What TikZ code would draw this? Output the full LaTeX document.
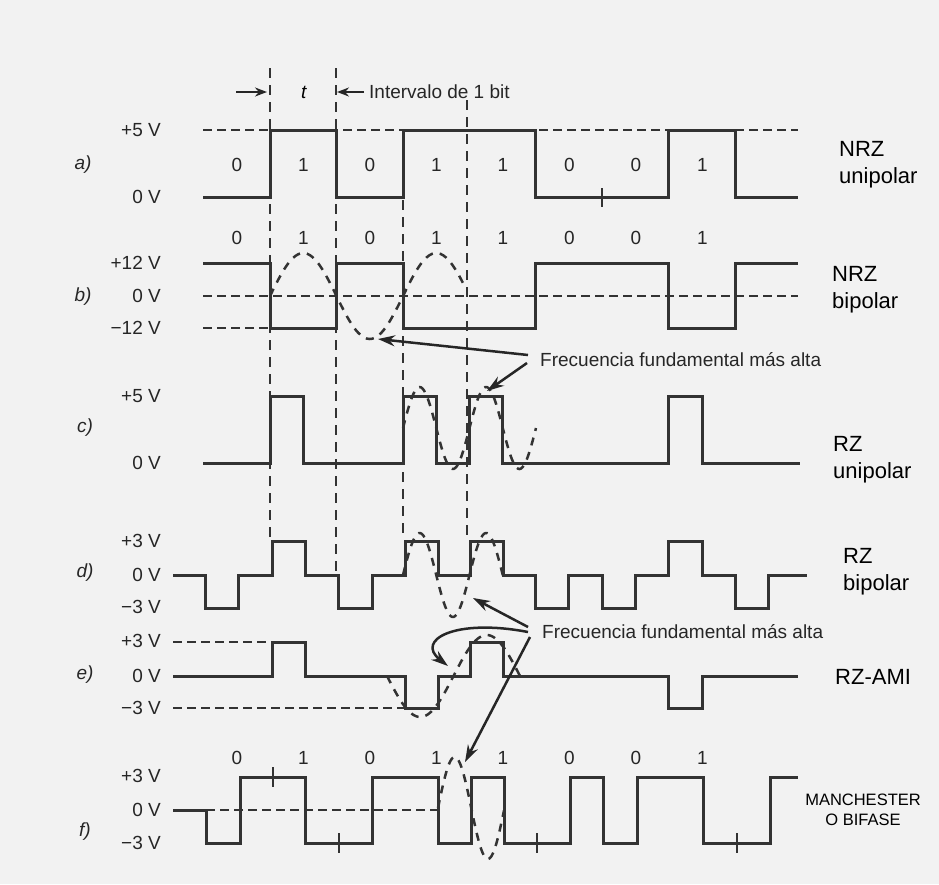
\documentclass[tikz,border=0pt]{standalone}
\usepackage{fontspec}
\setmainfont{Liberation Sans}
\usetikzlibrary{arrows.meta}

\tikzset{
	signal/.style={line width=3pt,line join=miter,black!80},
	rail/.style={line width=2.5pt,dash pattern=on 9pt off 5pt,black!80},
	bitgrid/.style={line width=2.5pt,dash pattern=on 10pt off 7pt,black!80},
	sinewave/.style={line width=2.5pt,dash pattern=on 8pt off 7pt,black!80},
	bitmark/.style={line width=2.2pt,black!80},
	pointer/.style={line width=2.5pt,black!85,-{Stealth[length=17pt,width=11pt]}},
	volt/.style={anchor=east,inner sep=0pt,text=black!85},
	bit/.style={inner sep=0pt,text=black!85},
	partlabel/.style={inner sep=0pt,text=black!85,font=\fontsize{19}{23}\selectfont\itshape},
	codename/.style={anchor=west,align=left,inner sep=0pt,font=\fontsize{22}{27}\selectfont},
}

\begin{document}
\begin{tikzpicture}[x=1pt,y=-1pt,font=\fontsize{19}{23}\selectfont]
	\useasboundingbox (0,0) rectangle (939,884);
	\fill[black!5] (0,0) rectangle (939,884); % paper

	% bit interval guides
	\draw[bitgrid] (270,68) -- (270,540);
	\draw[bitgrid] (336,68) -- (336,575);
	\draw[bitgrid] (403,200) -- (403,540);
	\draw[bitgrid] (467,100) -- (467,540);

	\node[inner sep=0pt] (tlen) at (304,92) {\textit{t}}; % bit time
	\node[inner sep=0pt,anchor=west,text=black!85] (interval) at (369,92) {Intervalo de 1 bit};
	\coordinate (tstart) at (267,92);
	\coordinate (tend) at (337,92);
	\draw[pointer,-{Stealth[length=12pt,width=9pt]}] ([xshift=-31pt]tstart) -- (tstart);
	\draw[pointer,-{Stealth[length=12pt,width=9pt]}] ([xshift=-5pt]interval.west) -- (tend);

	% a) NRZ unipolar
	\draw[rail] (203,130) -- (798,130);
	\draw[signal] (203,197) -- (270,197) -- (270,130) -- (336,130) -- (336,197) -- (403,197) -- (403,130) -- (535,130) -- (535,197) -- (668,197) -- (668,130) -- (735,130) -- (735,197) -- (798,197);
	\draw[bitmark] (602,188) -- (602,207);
	\node[partlabel] (pa) at (83,165) {a)};
	\node[volt] (va1) at (161,130) {+5 V};
	\node[volt] (va0) at (161,197) {0 V};
	\foreach \b [count=\i from 0] in {0,1,0,1,1,0,0,1}
		\node[bit] at (237+66.5*\i,165) {\b};
	\node[codename] (nrzu) at (839,165) {NRZ\\unipolar};

	% b) NRZ bipolar
	\draw[rail] (203,296) -- (798,296);
	\draw[rail] (203,328) -- (270,328);
	\draw[signal] (203,263) -- (270,263) -- (270,328) -- (336,328) -- (336,263) -- (403,263) -- (403,328) -- (535,328) -- (535,263) -- (668,263) -- (668,328) -- (735,328) -- (735,263) -- (798,263);
	\draw[sinewave] plot[domain=270:466,samples=70,smooth] (\x,{296-43*sin((\x-270)/133*360)});
	\coordinate (bTrough) at (378,339);
	\node[partlabel] (pb) at (83,297) {b)};
	\node[volt] (vb1) at (161,263) {+12 V};
	\node[volt] (vb0) at (161,296) {0 V};
	\node[volt] (vb2) at (161,328) {−12 V};
	\foreach \b [count=\i from 0] in {0,1,0,1,1,0,0,1}
		\node[bit] at (237+66.5*\i,238) {\b};
	\node[codename] (nrzb) at (832,290) {NRZ\\bipolar};

	\node[inner sep=0pt,anchor=west,text=black!85] (freqhi) at (540,360) {Frecuencia fundamental más alta};

	% c) RZ unipolar
	\draw[signal] (203,463) -- (270,463) -- (270,396) -- (303,396) -- (303,463) -- (403,463) -- (403,396) -- (436,396) -- (436,463) -- (469,463) -- (469,396) -- (502,396) -- (502,463) -- (668,463) -- (668,396) -- (702,396) -- (702,463) -- (800,463);
	\draw[sinewave] plot[domain=403:536,samples=90,smooth] (\x,{428-41*sin((\x-403)/66.5*360)});
	\coordinate (cPeak) at (487,391);
	\node[partlabel] (pc) at (85,428) {c)};
	\node[volt] (vc1) at (161,396) {+5 V};
	\node[volt] (vc0) at (161,463) {0 V};
	\node[codename] (rzu) at (833,460) {RZ\\unipolar};

	\draw[pointer] ([xshift=-12pt,yshift=5pt]freqhi.west) -- (bTrough);
	\draw[pointer] ([xshift=-13pt,yshift=-3pt]freqhi.west) -- (cPeak);

	% d) RZ bipolar
	\draw[signal] (173,575) -- (205,575) -- (205,608) -- (238,608) -- (238,575) -- (272,575) -- (272,541) -- (305,541) -- (305,575) -- (338,575) -- (338,608) -- (372,608) -- (372,575) -- (405,575) -- (405,541) -- (438,541) -- (438,575) -- (470,575) -- (470,541) -- (503,541) -- (503,575) -- (535,575) -- (535,608) -- (568,608) -- (568,575) -- (602,575) -- (602,608) -- (635,608) -- (635,575) -- (668,575) -- (668,541) -- (702,541) -- (702,575) -- (735,575) -- (735,608) -- (768,608) -- (768,575) -- (807,575);
	\draw[sinewave] plot[domain=403:503,samples=70,smooth] (\x,{575-42*sin((\x-403)/66.5*360)});
	\coordinate (dRise) at (473,598);
	\node[partlabel] (pd) at (85,573) {d)};
	\node[volt] (vd1) at (161,541) {+3 V};
	\node[volt] (vd0) at (161,575) {0 V};
	\node[volt] (vd2) at (161,607) {−3 V};
	\node[codename] (rzb) at (843,572) {RZ\\bipolar};

	\node[inner sep=0pt,anchor=west,text=black!85] (freqlo) at (542,632) {Frecuencia fundamental más alta};

	% e) RZ-AMI
	\draw[rail] (173,642) -- (272,642);
	\draw[rail] (173,708) -- (405,708);
	\draw[signal] (173,676) -- (272,676) -- (272,642) -- (305,642) -- (305,676) -- (405,676) -- (405,708) -- (438,708) -- (438,676) -- (470,676) -- (470,642) -- (503,642) -- (503,676) -- (668,676) -- (668,708) -- (702,708) -- (702,676) -- (798,676);
	\draw[sinewave] plot[domain=387:520,samples=70,smooth] (\x,{676+41*sin((\x-387)/133*360)});
	\coordinate (eRise) at (448,666);
	\node[partlabel] (pe) at (85,675) {e)};
	\node[volt] (ve1) at (161,641) {+3 V};
	\node[volt] (ve0) at (161,676) {0 V};
	\node[volt] (ve2) at (161,708) {−3 V};
	\node[codename] (ami) at (835,677) {RZ-AMI};

	% f) Manchester
	\draw[rail] (206,810) -- (438,810);
	\draw[signal] (173,810) -- (206,810) -- (206,843) -- (240,843) -- (240,777) -- (305,777) -- (305,843) -- (372,843) -- (372,777) -- (438,777) -- (438,843) -- (471,843) -- (471,777) -- (504,777) -- (504,843) -- (570,843) -- (570,777) -- (603,777) -- (603,843) -- (637,843) -- (637,777) -- (703,777) -- (703,843) -- (770,843) -- (770,777) -- (798,777);
	\draw[sinewave] plot[domain=438:504,samples=60,smooth] (\x,{808-51*sin((\x-438)/66.5*360)});
	\coordinate (fFall) at (465,762);
	\draw[bitmark] (273,767) -- (273,787);
	\foreach \m in {339,537,737}
		\draw[bitmark] (\m,833) -- (\m,853);
	\node[partlabel] (pf) at (85,832) {f)};
	\node[volt] (vf1) at (161,776) {+3 V};
	\node[volt] (vf0) at (161,810) {0 V};
	\node[volt] (vf2) at (161,843) {−3 V};
	\foreach \b [count=\i from 0] in {0,1,0,1,1,0,0,1}
		\node[bit] at (237+66.5*\i,758) {\b};
	\node[inner sep=0pt,align=center,font=\fontsize{16.5}{20}\selectfont] (manch) at (863,810) {MANCHESTER\\O BIFASE};

	\draw[pointer] ([xshift=-14pt,yshift=5pt]freqlo.west) -- (dRise);
	\draw[pointer] ([xshift=-14pt]freqlo.west) .. controls (455,618) and (415,640) .. (eRise);
	\draw[pointer] ([xshift=-12pt,yshift=-5pt]freqlo.west) -- (fFall);
\end{tikzpicture}
\end{document}
